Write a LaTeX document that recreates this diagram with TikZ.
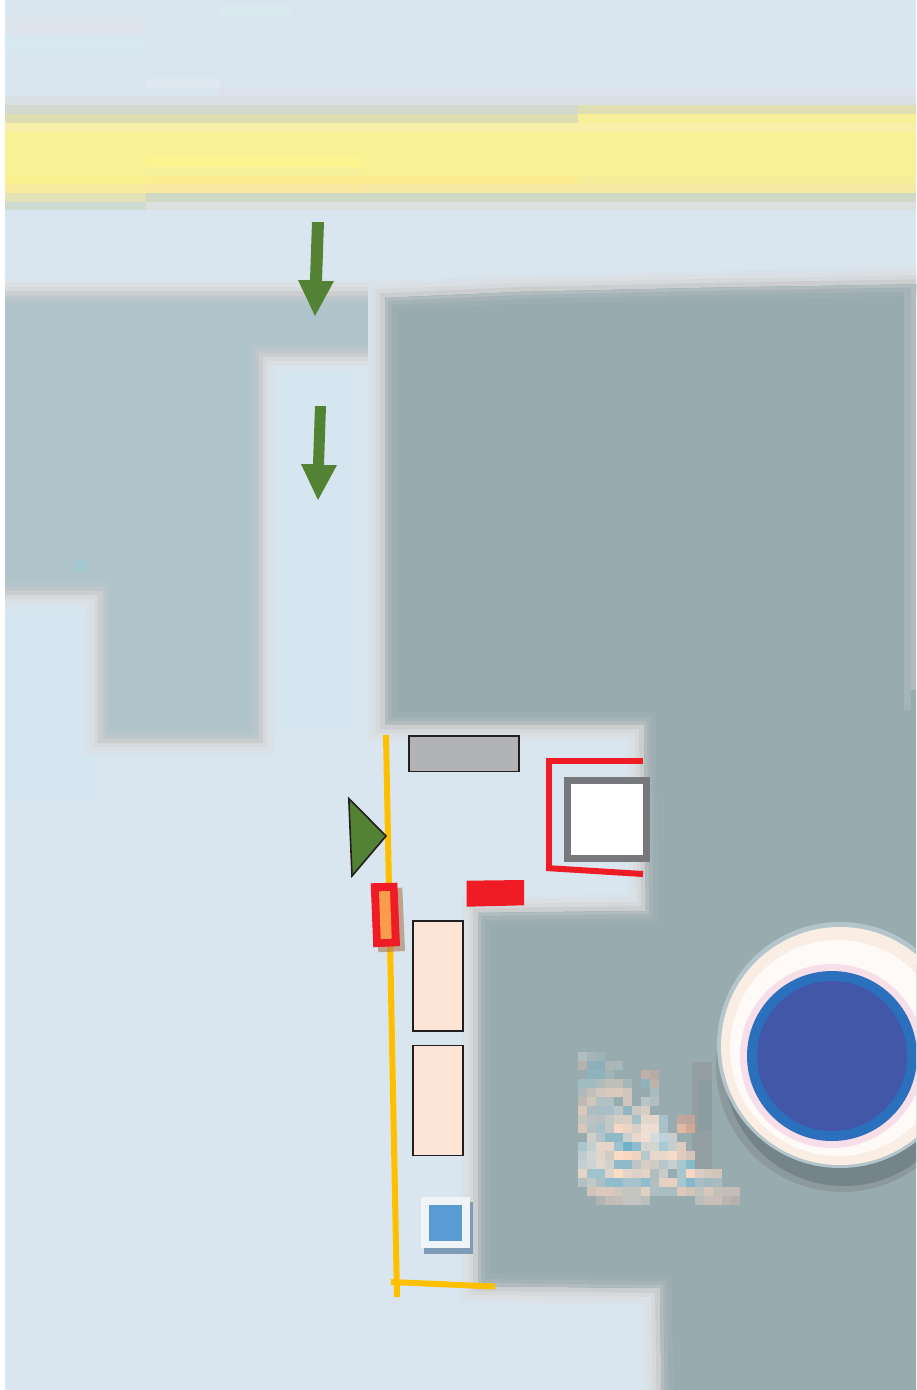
\documentclass[tikz,border=0pt]{standalone}
\definecolor{bgl}{HTML}{DAE6EF}
\definecolor{yel}{HTML}{F8F295}
\definecolor{dkL}{HTML}{AFC3CA}
\definecolor{dkR}{HTML}{98ABAF}
\definecolor{leaf}{HTML}{548235}
\definecolor{ink}{HTML}{231F20}
\definecolor{redm}{HTML}{EF1C25}
\definecolor{amber}{HTML}{FFC000}
\definecolor{peach}{HTML}{FCE4D6}
\definecolor{haloZ}{HTML}{DAE2E9}
\definecolor{haloA}{HTML}{DADFE4}
\definecolor{haloB}{HTML}{D6D9DB}
\definecolor{haloC}{HTML}{CBCDCE}
\tikzset{
  x=1pt,y=-1pt,
  arrowshape/.style={fill=leaf,draw=none},
  outlined/.style={draw=ink,line width=1.6pt},
  redline/.style={draw=redm,line width=6pt},
  amberline/.style={draw=amber,line width=6pt},
}
% soft-edged polygon: #1 path, #2 body colour
\newcommand\softpoly[2]{%
  \draw[line width=34pt,color=haloZ] #1 -- cycle;
  \draw[line width=26pt,color=haloA] #1 -- cycle;
  \draw[line width=18pt,color=haloB] #1 -- cycle;
  \draw[line width=10pt,color=haloC] #1 -- cycle;
  \fill[#2] #1 -- cycle;
  \begin{scope}
    \clip #1 -- cycle;
    \draw[line width=24pt,color=#2!92!haloC] #1 -- cycle;
    \draw[line width=14pt,color=#2!75!haloC] #1 -- cycle;
    \draw[line width=6pt,color=#2!50!haloC] #1 -- cycle;
  \end{scope}}
\newcommand\bandcell[5]{\definecolor{bandc}{HTML}{#5}\fill[bandc] (#1,#2) rectangle (#3,#4);}
\begin{document}
\begin{tikzpicture}
\useasboundingbox (0,0) rectangle (916,1390);
\fill[white] (0,0) rectangle (916,1390);
\begin{scope}
\clip (5,0) rectangle (916,1390);
\fill[bgl] (0,0) rectangle (916,1390);
% mottled sky
\bandcell{5}{36}{146}{52}{D8E8F0}
\bandcell{5}{17}{146}{34}{DDE4EC}
\bandcell{146}{79}{220}{88}{E0E8F2}
\bandcell{220}{88}{916}{96}{DDE1EE}
\bandcell{220}{5}{290}{17}{DAE9F0}
% yellow band
\bandcell{5}{96}{916}{105}{D9E0E4}
\bandcell{5}{105}{916}{114}{D3D9CF}
\bandcell{5}{114}{578}{123}{DFDDB2}
\bandcell{578}{105}{916}{114}{E0DFB4}
\bandcell{578}{114}{916}{123}{F7F098}
\bandcell{5}{123}{916}{132}{F8EFA8}
\fill[yel] (5,132) rectangle (916,184);
\bandcell{146}{158}{362}{167}{FDF48F}
\bandcell{146}{167}{362}{176}{F5F09A}
\bandcell{5}{176}{146}{184}{FBF08E}
\bandcell{146}{176}{578}{184}{FCEE90}
\bandcell{578}{176}{916}{184}{F5EE9A}
\bandcell{5}{184}{146}{193}{F8EB9F}
\bandcell{146}{184}{362}{193}{F9E8A0}
\bandcell{362}{184}{916}{193}{F5E8A4}
\bandcell{5}{193}{146}{202}{E2E2B6}
\bandcell{146}{193}{916}{202}{CFD9C6}
\bandcell{5}{202}{146}{210}{CFDBD0}
\bandcell{146}{202}{916}{210}{DCE0DE}
% lighter strip and left room
\bandcell{270}{370}{355}{730}{D6E6F0}
\bandcell{5}{610}{95}{800}{D6E6F0}
% dark blocks
\softpoly{(-20,296) -- (385,296) -- (385,352) -- (258,352) -- (258,738) -- (103,738) -- (103,590) -- (-20,590)}{dkL}
\softpoly{(385,298) -- (520,292) -- (700,288) -- (940,284) -- (940,1420) -- (662,1420) -- (660,1288) -- (478,1286) -- (478,913) -- (646,911) -- (644,724) -- (385,724)}{dkR}
\bandcell{904}{290}{911}{710}{A4B4B8}
\bandcell{911}{285}{916}{690}{B0BCC0}
\bandcell{75}{560}{88}{572}{A4C6CE}
% blurred lettering
\bandcell{692}{1062}{712}{1170}{929EA0}
\bandcell{698}{1080}{712}{1130}{8A9DA2}
\foreach \cx/\cy/\cc in {
 0/0/B1BEC0,1/0/A5B5BA,2/0/A0B3B8,
 0/1/B5B1AC,1/1/8FAFB8,2/1/8FAFB8,3/1/AEB6B4,4/1/A6B8BC,
 1/2/8FB3BC,2/2/8FB3BC,3/2/9FB5B8,7/2/C0B0A8,8/2/B8ABA5,
 0/3/A0BBC1,1/3/A0BBC1,2/3/B0BCBC,3/3/BFBEB8,4/3/BFBEB8,5/3/A8B8B8,7/3/8FB3BC,8/3/BEB2AA,
 0/4/AEBABC,1/4/C2BEB8,2/4/D2C8BF,3/4/D8CABE,4/4/D8CABE,5/4/CFC5BC,8/4/A9BBC0,
 0/5/C0B8B3,1/5/D0C6BC,2/5/B0C1C4,3/5/B0C1C4,5/5/CFC5BC,7/5/B8C4C6,8/5/B4BEC0,
 0/6/DBC8BC,1/6/B0BCC2,2/6/A8BFC8,3/6/A8BFC8,4/6/BAC6C8,5/6/8FB6C1,6/6/CCC9C2,7/6/D4CEC6,
 0/7/C8C4BE,1/7/BCC2C4,2/7/B8C0C4,3/7/C4C8C4,4/7/D4CEC4,5/7/DCCEC4,6/7/A5C1CB,7/7/E5D6CC,8/7/E5D6CC,9/7/A8C0C8,11/7/C0A8A0,12/7/BFA49A,
 0/8/D8C8BC,1/8/B5C1C5,2/8/A8C0C8,3/8/C4C8C4,4/8/F5D8C8,5/8/EAD4C6,6/8/D8D0C8,7/8/EFDED2,8/8/EDDCD4,9/8/A8C0C8,11/8/E0B8A4,12/8/CFA898,
 1/9/D0CFC8,2/9/B5C4C8,3/9/90BAC6,4/9/90BAC6,5/9/C8D0D2,6/9/E8D8CC,7/9/F0E0D4,8/9/D4DCDC,9/9/BFD2D8,10/9/C8CDD0,
 0/10/ADC6CE,1/10/C4CFD2,2/10/E8D5CA,3/10/E8D5CA,4/10/9CC4D0,5/10/6FB2CC,6/10/8FBDD0,7/10/D4D4D0,8/10/D4D4D0,9/10/A8CAD4,10/10/C8CDD0,11/10/E0CCBE,
 0/11/BFCBCD,1/11/CFD6D6,2/11/E2D5CA,3/11/D0CCC4,4/11/F8DCC8,5/11/FAD8C0,6/11/EFD2C0,7/11/B8C8CC,8/11/E8D8CC,9/11/EAD8CC,10/11/F5DCC8,11/11/E0CCBE,12/11/D5C4BA,
 0/12/C4CFD2,1/12/CCD4D4,2/12/E0D8D0,3/12/D0D0CC,4/12/90BACA,5/12/90BACA,6/12/BEC4C4,7/12/D8CDC4,8/12/D0CCC4,9/12/B8C6C8,10/12/C8CFD0,11/12/A8C8D0,12/12/85BCCC,
 0/13/E8D4C6,1/13/9FC4CE,2/13/9FC4CE,3/13/DFD4CC,4/13/FBDCC4,5/13/E6D4C8,6/13/DCD0C8,7/13/E2D2C6,8/13/B0BEC0,9/13/C8CCC8,11/13/A8C6CC,12/13/F8D8C4,13/13/D8CCC4,14/13/D4C8BE,15/13/D4C4B8,
 0/14/B5C0C0,1/14/C0C8C8,2/14/ABBFC4,3/14/8FBDCC,4/14/8FBDCC,5/14/A6C2CC,6/14/A6C2CC,7/14/90BCCC,8/14/B0BEC0,9/14/E6D0C4,10/14/EAD0C2,11/14/A8C6CC,12/14/82BACC,13/14/A8BEC4,14/14/A0BAC0,15/14/A8BCC0,
 1/15/D0C4BA,2/15/DCC8BC,3/15/DCC8BC,4/15/D0C8C0,5/15/C4C4C0,6/15/C4C4C0,7/15/E0D0C4,8/15/B0BEC0,9/15/A8BEC2,10/15/A8BEC2,11/15/DCC8BC,12/15/D4C4B8,13/15/BFC4C0,14/15/D8C8BC,15/15/C4C0B8,16/15/C4BEB8,17/15/C4BCB8,
 2/16/B0B4B2,3/16/C0BCB8,4/16/C4BEB8,5/16/C4C4C0,6/16/C4C4C4,7/16/BABEBC,13/16/BABEBC,14/16/C8C0BA,15/16/CCBEB8,16/16/BDB4B0,17/16/B4B0AE}
{\definecolor{cellc}{HTML}{\cc}\fill[cellc] ({578+9*\cx},{1052+9*\cy}) rectangle +(9.2,9.2);}
% circle
\definecolor{shA}{HTML}{8C9A9E}\definecolor{shB}{HTML}{758489}
\definecolor{ringA}{HTML}{B4C6CB}\definecolor{ringB}{HTML}{FAEEE4}\definecolor{ringC}{HTML}{FDFAF8}
\definecolor{ringD}{HTML}{F8DEE9}\definecolor{blueE}{HTML}{2A70BC}\definecolor{blueF}{HTML}{4357A8}
\fill[shA] (842,1066) circle[radius=126];
\fill[shB] (844,1066) circle[radius=120];
\fill[ringA] (840,1045) circle[radius=123];
\fill[ringB] (840,1046) circle[radius=119];
\fill[ringC] (838,1048) circle[radius=108];
\fill[ringD] (832,1056) circle[radius=92];
\fill[blueE] (832,1056) circle[radius=85];
\fill[blueF] (832,1056) circle[radius=75];
\end{scope}
% arrows
\fill[arrowshape] (312,222) -- (324,222) -- (322,281) -- (334,281) -- (315,316) -- (298,280) -- (310,280) -- cycle;
\fill[arrowshape] (315,406) -- (326,406) -- (324,465) -- (337,465) -- (318,500) -- (301,464) -- (313,464) -- cycle;
% amber lines
\draw[amberline] (386,735) -- (397,1297);
\draw[amberline] (391,1282) -- (495,1286.5);
% grey bar
\draw[outlined,fill={rgb,255:red,177;green,179;blue,182}] (409,736) rectangle (519,771.5);
% red bracket
\draw[redline] (546,761) -- (643,761);
\draw[redline] (549,758) -- (549,870);
\draw[redline] (546,868) -- (643,874);
% white square
\draw[draw={rgb,255:red,119;green,120;blue,123},fill=white,line width=6.6pt] (567.5,780.5) rectangle (646.7,858.5);
% triangle
\draw[outlined,fill=leaf,line join=miter] (348.8,798.5) -- (386,836) -- (352,876) -- cycle;
% red tag
\fill[color={rgb,255:red,170;green,120;blue,85},opacity=.6] (375.7,888.3) -- (402.3,887.7) -- (405,951) -- (378.3,952.3) -- cycle;
\fill[redm] (370.7,883.3) -- (397.3,882.7) -- (400,946) -- (373.3,947.3) -- cycle;
\fill[color={rgb,255:red,249;green,157;blue,76}] (379,891.3) -- (390,891) -- (391.7,938.7) -- (380.7,939) -- cycle;
% red block
\fill[redm] (466.7,880.7) -- (524,880) -- (524,905.3) -- (466.7,906.7) -- cycle;
% peach boxes
\draw[outlined,fill=peach] (413,921) rectangle (463,1031);
\draw[outlined,fill=peach] (413,1045.5) rectangle (463,1155.5);
% blue square
\fill[color={rgb,255:red,126;green,155;blue,184}] (424,1201.7) rectangle (472.7,1253.5);
\fill[color={rgb,255:red,241;green,244;blue,247}] (421,1196.7) rectangle (469.7,1248);
\fill[color={rgb,255:red,91;green,155;blue,213}] (428.7,1204.5) rectangle (461.7,1240.7);
\end{tikzpicture}
\end{document}
